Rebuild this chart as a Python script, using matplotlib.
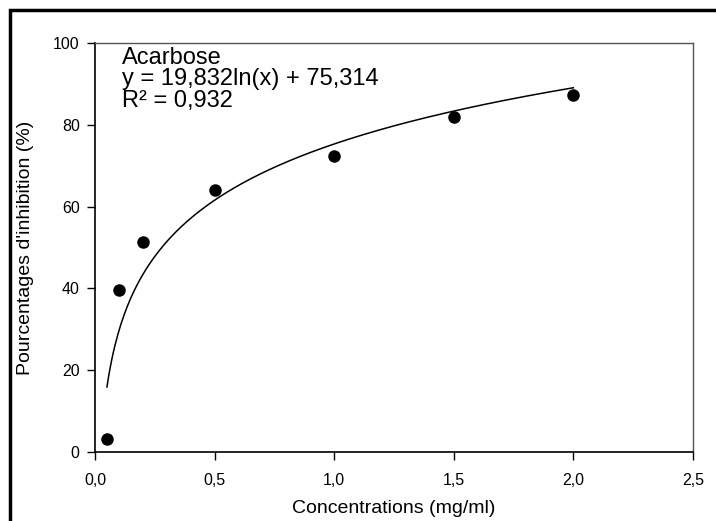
import matplotlib.pyplot as plt
import numpy as np
from matplotlib.patches import Rectangle
from matplotlib.ticker import FuncFormatter

plt.rcParams['font.family'] = ['Liberation Sans', 'DejaVu Sans']

conc = [0.05, 0.1, 0.2, 0.5, 1.0, 1.5, 2.0]
inhib = [3.2, 39.7, 51.3, 64.0, 72.4, 82.0, 87.4]

# log trendline coefficients as printed on the chart
a_coef = 19.832
b_coef = 75.314
r2 = 0.932

W, H = 716, 521
fig = plt.figure(figsize=(W / 100, H / 100), dpi=100)
ax = fig.add_axes([95 / W, 1 - 452 / H, (693 - 95) / W, (452 - 43) / H])

xs = np.linspace(conc[0], conc[-1], 300)
ax.plot(xs, a_coef * np.log(xs) + b_coef, color='black', lw=1.1)
ax.plot(conc, inhib, 'o', color='black', markersize=8)

ax.set_xlim(0, 2.5)
ax.set_ylim(0, 100)
ax.set_xticks(np.arange(0, 2.51, 0.5))
ax.set_yticks(np.arange(0, 101, 20))
ax.xaxis.set_major_formatter(FuncFormatter(lambda v, p: f'{v:.1f}'.replace('.', ',')))
ax.tick_params(direction='out', length=6, width=1, labelsize=11.5, pad=5)
ax.tick_params(axis='x', pad=9)

for s in ['left', 'bottom']:
    ax.spines[s].set_linewidth(1.2)
for s in ['top', 'right']:
    ax.spines[s].set_color('#555555')
    ax.spines[s].set_linewidth(1.0)

ax.set_xlabel('Concentrations (mg/ml)', fontsize=14, labelpad=9)
ax.set_ylabel("Pourcentages d'inhibition (%)", fontsize=14, labelpad=14)

ax.text(0.045, 0.99, 'Acarbose', transform=ax.transAxes, fontsize=17, va='top')
ax.text(0.045, 0.938, f'y = {a_coef:.3f}ln(x) + {b_coef:.3f}'.replace('.', ','),
        transform=ax.transAxes, fontsize=17, va='top')
ax.text(0.045, 0.886, f'R² = {r2:.3f}'.replace('.', ','),
        transform=ax.transAxes, fontsize=17, va='top')

# outer frame of the original graph window
fig.patches.append(Rectangle((10 / W, -0.1), 1.2, 1 - 10 / H + 0.1,
                             transform=fig.transFigure, fill=False,
                             edgecolor='black', lw=2.5))

fig.savefig('out.png', dpi=100)
